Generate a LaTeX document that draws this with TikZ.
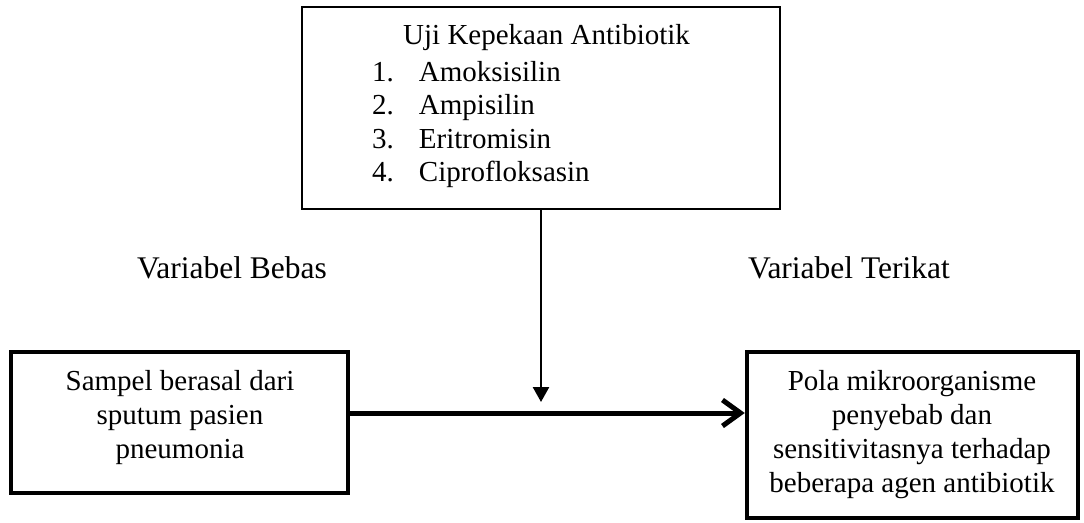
\documentclass[tikz,border=0pt]{standalone}
\usepackage{fontspec}
\setmainfont{Liberation Serif}
\usetikzlibrary{arrows.meta}
\begin{document}
\begin{tikzpicture}[x=1pt,y=-1pt,
  thinbox/.style={draw, line width=2pt, inner sep=0},
  thickbox/.style={draw, line width=4.5pt, inner sep=0},
  bodytext/.style={font=\fontsize{29}{34}\selectfont, inner sep=0, anchor=base},
  listtext/.style={font=\fontsize{29}{33.5}\selectfont, inner sep=0, anchor=base west},
  labeltext/.style={font=\fontsize{31.5}{38}\selectfont, inner sep=0, anchor=base},
  mainarrow/.style={line width=5pt, -{Straight Barb[length=18pt,width=26pt,line width=5pt]}},
  droparrow/.style={line width=2.5pt, -{Triangle[length=15pt,width=16pt]}}]
\useasboundingbox (0,0) rectangle (1084,522);

% boxes
\node[thinbox, minimum width=478pt, minimum height=202pt] (top) at (541,108) {};
\node[thickbox, minimum width=337pt, minimum height=141pt] (left) at (179.5,422.5) {};
\node[thickbox, minimum width=331pt, minimum height=166pt] (right) at (912.5,435) {};

% top box text
\node[bodytext, anchor=base west] (title) at (403,44) {Uji Kepekaan Antibiotik};
\node[listtext] (list) at (372,81) {\begin{tabular}[t]{@{}l@{\hspace{25pt}}l@{}}1.&Amoksisilin\\2.&Ampisilin\\3.&Eritromisin\\4.&Ciprofloksasin\end{tabular}};

% left and right box text
\node[bodytext] (ltext) at (180,390) {\begin{tabular}[t]{@{}c@{}}Sampel berasal dari\\sputum pasien\\pneumonia\end{tabular}};
\node[bodytext] (rtext) at (912,390) {\begin{tabular}[t]{@{}c@{}}Pola mikroorganisme\\penyebab dan\\sensitivitasnya terhadap\\beberapa agen antibiotik\end{tabular}};

% labels
\node[labeltext] (bebas) at (232,278) {Variabel Bebas};
\node[labeltext] (terikat) at (849,278) {Variabel Terikat};

% connectors
\coordinate (j) at (541,413);
\draw[mainarrow] (left.east |- j) -- (right.west |- j);
\draw[droparrow] (top.south) -- ([yshift=11pt]j);
\end{tikzpicture}
\end{document}
